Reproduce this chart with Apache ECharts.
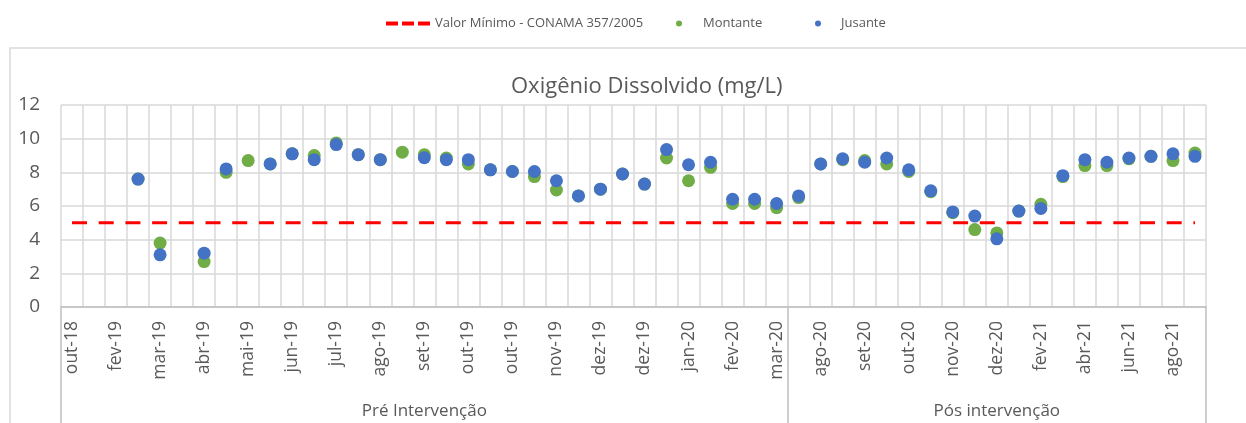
<!DOCTYPE html>
<html>
<head>
<meta charset="utf-8">
<script src="https://cdn.jsdelivr.net/npm/echarts@6/dist/echarts.min.js"></script>
<style>
    html, body { margin: 0; padding: 0; background: #fff; }
    #J_chart { width: 1246px; height: 423px; }
</style>
</head>
<body>
<div id="J_chart"></div>
<script>
const FONT = '"Open Sans", "Noto Sans", sans-serif';
const TEXT_COLOR = '#595959';
const GRID_COLOR = '#D9D9D9';
const DASH_ICON = 'path://M0,0h12v4h-12z M16,0h12v4h-12z M32,0h12v4h-12z';

// 可见的刻度标签（每隔一个类目显示一个）
const tickLabels = [
    'out-18', 'fev-19', 'mar-19', 'abr-19', 'mai-19', 'jun-19', 'jul-19', 'ago-19', 'set-19',
    'out-19', 'out-19', 'nov-19', 'dez-19', 'dez-19', 'jan-20', 'fev-20', 'mar-20',
    'ago-20', 'set-20', 'out-20', 'nov-20', 'dez-20', 'fev-21', 'abr-21', 'jun-21', 'ago-21'
];
const categories = tickLabels.flatMap(l => [l, '']);

const groups = ['Pré Intervenção', 'Pós intervenção'];
const groupSizes = [33, 19];

const limitName = 'Valor Mínimo - CONAMA 357/2005';
const limitValue = 5;

const montante = [
    null, null, null, 7.6, 3.8, null, 2.7, 8.0, 8.7, 8.5, 9.1, 9.0, 9.75, 9.05, 8.75, 9.2, 9.05,
    8.85, 8.5, 8.15, 8.05, 7.75, 6.95, 6.6, 7.0, 7.9, 7.3, 8.85, 7.5, 8.3, 6.15, 6.15, 5.9,
    6.5, 8.5, 8.75, 8.7, 8.5, 8.05, 6.85, 5.6, 4.6, 4.4, 5.7, 6.1, 7.75, 8.4, 8.4, 8.8, 8.95, 8.7, 9.15
];
const jusante = [
    null, null, null, 7.6, 3.1, null, 3.2, 8.2, null, 8.5, 9.1, 8.75, 9.65, 9.05, 8.75, null, 8.87,
    8.75, 8.75, 8.15, 8.05, 8.05, 7.5, 6.6, 7.0, 7.9, 7.3, 9.35, 8.45, 8.6, 6.4, 6.4, 6.15,
    6.6, 8.5, 8.8, 8.6, 8.85, 8.15, 6.9, 5.65, 5.4, 4.05, 5.7, 5.85, 7.8, 8.75, 8.6, 8.85, 8.95, 9.1, 8.95
];

// 分组边界和中心
function groupBounds() {
    let res = [0], acc = 0;
    groupSizes.forEach(n => { acc += n; res.push(acc); });
    return res;
}
const bounds = groupBounds();
const centers = groups.map((g, i) => (bounds[i] + bounds[i + 1]) / 2);

function legendOf(item, left, w, h) {
    return {
        data: [item],
        left: left,
        top: 12,
        itemWidth: w,
        itemHeight: h,
        itemGap: 0,
        selectedMode: false,
        textStyle: { fontFamily: FONT, fontSize: 13, color: TEXT_COLOR }
    };
}

function initChart() {
    let options = {
        animation: false,
        title: {
            text: 'Oxigênio Dissolvido (mg/L)',
            left: 506,
            top: 71,
            textStyle: { fontFamily: FONT, fontSize: 22, fontWeight: 'normal', color: TEXT_COLOR }
        },
        legend: [
            legendOf({ name: limitName, icon: DASH_ICON }, 381, 44, 4),
            legendOf({ name: 'Montante', icon: 'circle' }, 671, 38, 6),
            legendOf({ name: 'Jusante', icon: 'circle' }, 810, 36, 6)
        ],
        graphic: [{
            type: 'rect',
            silent: true,
            z: -1,
            shape: { x: 10, y: 48, width: 1260, height: 420 },
            style: { fill: 'none', stroke: GRID_COLOR, lineWidth: 1.5 }
        }],
        grid: {
            left: 61,
            right: 40,
            top: 105,
            bottom: 116
        },
        xAxis: [{
            type: 'category',
            data: categories,
            boundaryGap: true,
            axisLine: { show: true, lineStyle: { color: '#BFBFBF', width: 1.5 } },
            axisTick: { show: false },
            axisLabel: {
                interval: 0,
                rotate: 90,
                margin: 14,
                fontFamily: FONT,
                fontSize: 17.5,
                color: TEXT_COLOR
            },
            splitLine: { show: true, interval: 0, lineStyle: { color: GRID_COLOR, width: 1.5 } }
        }, {
            type: 'value',
            position: 'bottom',
            min: 0,
            max: bounds[bounds.length - 1],
            axisLine: { show: false },
            splitLine: { show: false },
            axisTick: {
                show: true,
                customValues: bounds,
                length: 118,
                lineStyle: { color: '#BFBFBF', width: 1.5 }
            },
            axisLabel: {
                customValues: centers,
                margin: 96,
                fontFamily: FONT,
                fontSize: 17,
                color: TEXT_COLOR,
                formatter: function (v) {
                    let idx = centers.indexOf(v);
                    return idx >= 0 ? groups[idx] : '';
                }
            }
        }],
        yAxis: {
            type: 'value',
            min: 0,
            max: 12,
            interval: 2,
            axisLine: { show: false },
            axisTick: { show: false },
            axisLabel: { margin: 21, fontFamily: FONT, fontSize: 19, color: TEXT_COLOR },
            splitLine: { lineStyle: { color: GRID_COLOR, width: 1.5 } }
        },
        series: [{
            name: limitName,
            type: 'line',
            symbol: 'none',
            color: '#FF0000',
            lineStyle: { color: '#FF0000', width: 3, type: [15, 11.7] },
            data: categories.map(() => limitValue),
            z: 1
        }, {
            name: 'Montante',
            type: 'scatter',
            symbol: 'circle',
            symbolSize: 13,
            color: '#70AD47',
            itemStyle: { opacity: 1 },
            data: montante,
            z: 2
        }, {
            name: 'Jusante',
            type: 'scatter',
            symbol: 'circle',
            symbolSize: 13,
            color: '#4472C4',
            itemStyle: { opacity: 1 },
            data: jusante,
            z: 3
        }]
    };
    let chart = echarts.init(document.getElementById('J_chart'));
    chart.setOption(options);
}

initChart();
</script>
</body>
</html>
